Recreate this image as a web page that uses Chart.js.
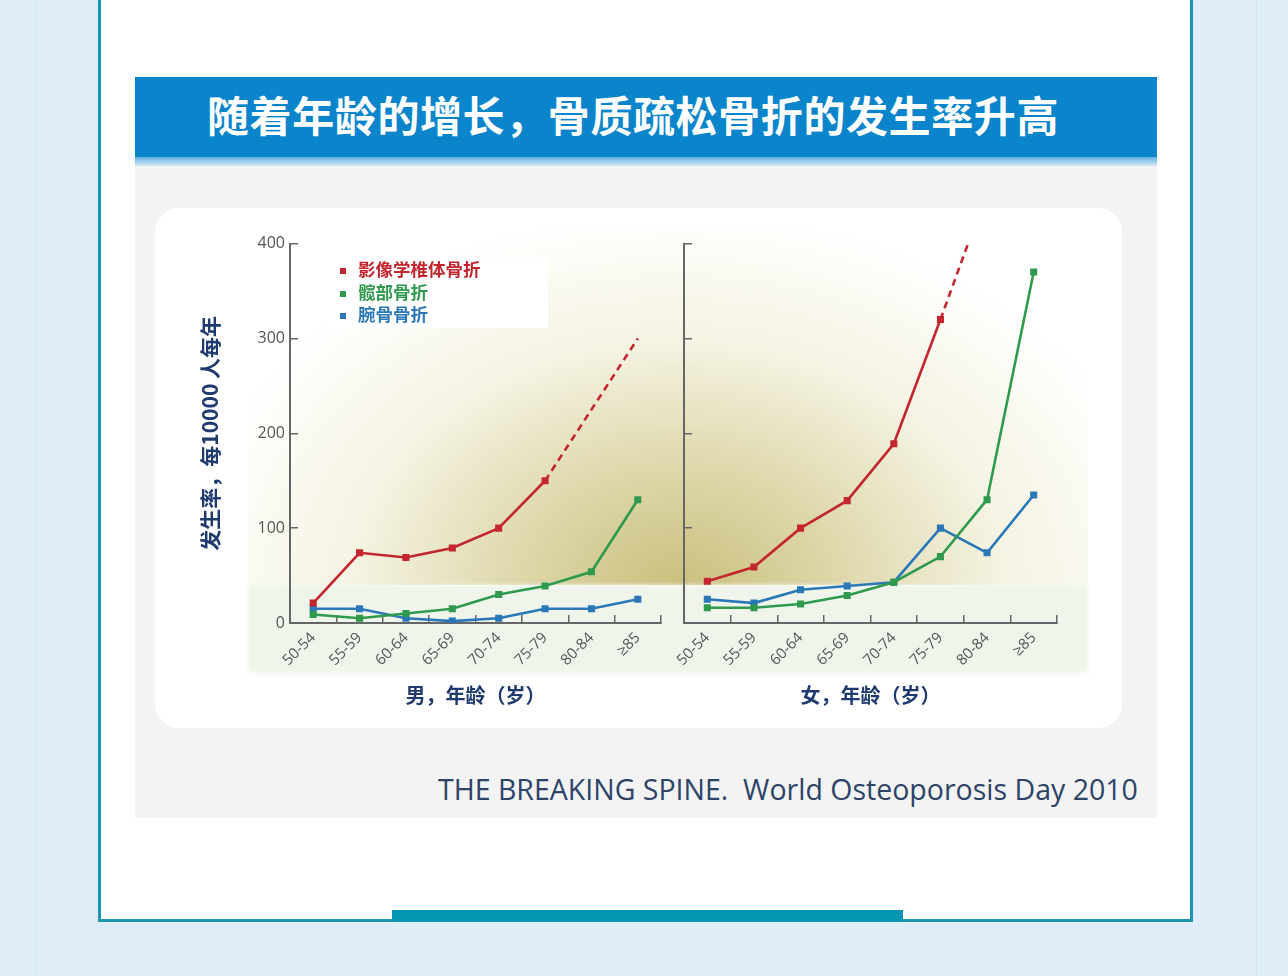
<!DOCTYPE html>
<html lang="zh">
<head>
<meta charset="UTF-8">
<title>骨质疏松骨折发生率</title>
<script src="https://cdn.jsdelivr.net/npm/chart.js@4.4.1/dist/chart.umd.min.js"></script>
<style>
  html, body { margin: 0; padding: 0; }
  body { width: 1288px; height: 976px; position: relative; overflow: hidden; background: #deedf7; font-family: "Noto Sans CJK SC", "Noto Sans", sans-serif; }
  .stripe { position: absolute; top: 0; bottom: 0; width: 1px; background: #cfe3f1; }
  .frame { position: absolute; left: 98px; top: -6px; width: 1089px; height: 922px; background: #fff; border: 3px solid #1a97ad; }
  .frame-bar { position: absolute; left: 392px; top: 910px; width: 511px; height: 11px; background: #0596b3; }
  .banner { position: absolute; left: 135px; top: 77px; width: 1022px; height: 80px; background: #0a84cb; }
  .banner-text { position: absolute; left: 207px; top: 86px; color: #fff; font-weight: 700; font-size: 42px; line-height: 56px; letter-spacing: 0.6px; white-space: nowrap; }
  .banner-edge { position: absolute; left: 135px; top: 157px; width: 1022px; height: 9px; background: linear-gradient(#5fb0e6, #d6e9f5); }
  .grey { position: absolute; left: 135px; top: 166px; width: 1022px; height: 652px; background: #f3f3f3; }
  .card { position: absolute; left: 155px; top: 208px; width: 967px; height: 520px; background: #fff; border-radius: 24px; }
  .glow { position: absolute; left: 248px; top: 230px; width: 840px; height: 355px;
          background: radial-gradient(ellipse 500px 380px at 430px 360px, rgba(192,180,102,0.85) 0%, rgba(204,194,126,0.68) 30%, rgba(226,220,172,0.35) 65%, rgba(255,255,255,0) 100%); }
  .band { position: absolute; left: 248px; top: 585px; width: 840px; height: 88px; background: #eff5ea; filter: blur(2px); }
  canvas { position: absolute; }
  #menChart { left: 170px; top: 221px; }
  #womenChart { left: 624px; top: 221px; }
  .legend { position: absolute; left: 330px; top: 257px; width: 218px; height: 71px; background: #fff; box-sizing: border-box; padding-top: 1px; }
  .legend div { height: 22.5px; line-height: 22.5px; font-size: 17.5px; font-weight: 700; white-space: nowrap; }
  .legend span { display: inline-block; width: 6px; height: 6px; margin: 0 12px 0 10px; vertical-align: middle; }
  .source { position: absolute; left: 438px; top: 770px; font-family: "Open Sans", sans-serif; font-size: 28.5px; color: #2d4468; white-space: nowrap; }
</style>
</head>
<body>
<div class="stripe" style="left:36px"></div>
<div class="stripe" style="left:1256px"></div>
<div class="frame"></div>
<div class="frame-bar"></div>
<div class="banner"></div>
<div class="banner-text">随着年龄的增长，骨质疏松骨折的发生率升高</div>
<div class="banner-edge"></div>
<div class="grey"></div>
<div class="card"></div>
<div class="glow"></div>
<div class="band"></div>
<canvas id="menChart" width="500" height="492" style="width:500px;height:492px"></canvas>
<canvas id="womenChart" width="442" height="492" style="width:442px;height:492px"></canvas>
<div class="legend" id="legend"></div>
<div class="source">THE BREAKING SPINE.&nbsp; World Osteoporosis Day 2010</div>

<script>
const ageGroups = ['50-54', '55-59', '60-64', '65-69', '70-74', '75-79', '80-84', '≥85'];
const seriesNames = ['影像学椎体骨折', '髋部骨折', '腕骨骨折'];
const seriesColors = ['#c3262f', '#2f9a4d', '#2b78b8'];
const yTicks = [0, 100, 200, 300, 400];

// 男 (每10000人每年)
const menVertebral = [21, 74, 69, 79, 100, 150, null, 300];
const menHip = [9, 5, 10, 15, 30, 39, 54, 130];
const menWrist = [15, 15, 5, 2, 5, 15, 15, 25];

// 女
const womenVertebral = [44, 59, 100, 129, 189, 320, 455, null];
const womenHip = [16, 16, 20, 29, 43, 70, 130, 370];
const womenWrist = [25, 21, 35, 39, 43, 100, 74, 135];

// index after which the vertebral line turns dashed (extrapolated)
const dashFrom = 5;

const tickColor = '#555';
const titleColor = '#1e3a6e';

function datasets(vertebral, hip, wrist) {
    const sets = [vertebral, hip, wrist].map((data, i) => ({
        label: seriesNames[i],
        data: data,
        borderColor: seriesColors[i],
        backgroundColor: seriesColors[i],
        borderWidth: 2.6,
        pointStyle: 'rect',
        pointRadius: 5,
        pointBorderWidth: 0,
        tension: 0,
        fill: false
    }));
    // the dashed tail has no marker at its end
    sets[0].spanGaps = true;
    sets[0].pointRadius = ctx => ctx.dataIndex > dashFrom ? 0 : 5;
    sets[0].segment = { borderDash: ctx => ctx.p0DataIndex >= dashFrom ? [7, 5] : undefined };
    sets[0].order = 0; sets[1].order = 1; sets[2].order = 2;
    return sets;
}

function options(xTitle, showY) {
    return {
        responsive: false,
        animation: false,
        layout: { padding: { top: 0, right: 9, left: 0, bottom: 0 } },
        plugins: { legend: { display: false }, tooltip: { enabled: false } },
        scales: {
            x: {
                offset: true,
                grid: { offset: true, drawOnChartArea: false, drawTicks: true, tickLength: -8, color: '#666', lineWidth: 1.5 },
                border: { color: '#666', width: 2 },
                ticks: { color: tickColor, font: { family: 'Open Sans', size: 15 }, minRotation: 45, maxRotation: 45, padding: 14, autoSkip: false },
                title: { display: true, text: xTitle, color: titleColor, font: { family: 'Noto Sans CJK SC', size: 20, weight: 'bold' }, padding: { top: 4, bottom: 6 } },
                afterFit: s => { s.height = 90; }
            },
            y: {
                min: yTicks[0],
                max: yTicks[yTicks.length - 1],
                afterBuildTicks: s => { s.ticks = yTicks.map(v => ({ value: v })); },
                grid: { drawOnChartArea: false, drawTicks: true, tickLength: -8, color: '#666', lineWidth: 1.5 },
                border: { color: '#666', width: 2 },
                ticks: { color: tickColor, font: { family: 'Open Sans', size: 16 }, padding: 13, callback: v => showY ? v : '' },
                title: { display: showY, text: '发生率，每10000 人每年', color: titleColor, font: { family: 'Noto Sans CJK SC', size: 21, weight: 'bold' }, padding: { top: 27, bottom: 0 } },
                afterFit: s => { s.width = showY ? 120 : 60; }
            }
        }
    };
}

new Chart(document.getElementById('menChart'), {
    type: 'line',
    data: { labels: ageGroups, datasets: datasets(menVertebral, menHip, menWrist) },
    options: options('男，年龄（岁）', true)
});

new Chart(document.getElementById('womenChart'), {
    type: 'line',
    data: { labels: ageGroups, datasets: datasets(womenVertebral, womenHip, womenWrist) },
    options: options('女，年龄（岁）', false)
});

// legend
const legend = document.getElementById('legend');
seriesNames.forEach((name, i) => {
    const row = document.createElement('div');
    row.style.color = seriesColors[i];
    row.innerHTML = '<span style="background:' + seriesColors[i] + '"></span>' + name;
    legend.appendChild(row);
});
</script>
</body>
</html>
